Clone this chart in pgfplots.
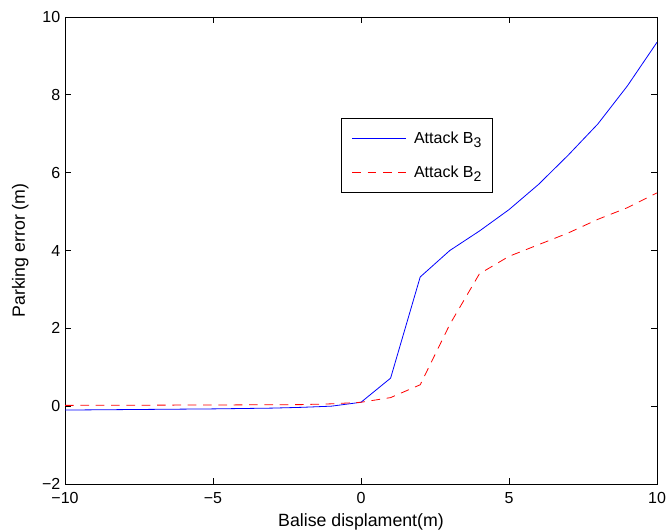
\documentclass[border=0pt]{standalone}
\usepackage{fontspec}
\setmainfont{Liberation Sans}
\usepackage{pgfplots}
\pgfplotsset{compat=1.18}
\newcommand{\sub}[1]{\raisebox{-0.45ex}{\fontsize{10.5}{10.5}\selectfont #1}}
\begin{document}
\begin{tikzpicture}
\useasboundingbox (-48.75pt,-35.25pt) rectangle (453.75pt,363pt);
\begin{axis}[
    at={(0,0)}, anchor=south west,
    scale only axis,
    width=444pt, height=350.25pt,
    xmin=-10, xmax=10, ymin=-2, ymax=10,
    xtick={-10,-5,0,5,10},
    xticklabels={−10,−5,0,5,10},
    ytick={-2,0,2,4,6,8,10},
    yticklabels={−2,0,2,4,6,8,10},
    tick align=inside,
    major tick length=4.3pt,
    axis line style={line width=0.6pt},
    tick style={line width=0.5pt, black},
    every tick label/.append style={font=\fontsize{12}{14}\selectfont},
    xticklabel style={yshift=-3pt},
    xlabel={Balise displament(m)},
    ylabel={Parking error (m)},
    label style={font=\fontsize{13.3}{15}\selectfont},
    xlabel style={at={(axis description cs:0.5,0)}, anchor=center, yshift=-28.5pt},
    ylabel style={at={(axis description cs:0,0.5)}, anchor=center, yshift=33.5pt},
    legend style={at={(axis description cs:0.466,0.783)}, anchor=north west,
        draw=black, line width=0.6pt, font=\fontsize{12}{14}\selectfont,
        cells={anchor=west}, row sep=11pt, inner xsep=6pt, inner ysep=8pt},
    legend image code/.code={\draw[#1, line width=0.6pt] (0pt,0pt) -- (40.5pt,0pt);
        \path (-2pt,0pt) (44pt,0pt);},
]
\addplot[blue, line width=0.6pt] coordinates {
(-10,-0.10) (-5,-0.07) (-3,-0.05) (-2,-0.03) (-1,0.0) (0,0.10) (1,0.72) (2,3.32)
(3,4.0) (4,4.5) (5,5.05) (6,5.7) (7,6.45) (8,7.25) (9,8.23) (10,9.35)};
\addlegendentry{Attack B\sub{3}}
\addplot[red, line width=0.6pt, dash pattern=on 6.5pt off 5pt] coordinates {
(-10,0.02) (-5,0.03) (-2,0.04) (-1,0.06) (0,0.10) (1,0.22) (2,0.55) (3,2.1)
(4,3.4) (5,3.85) (6,4.15) (7,4.45) (8,4.8) (9,5.1) (10,5.48)};
\addlegendentry{Attack B\sub{2}}
\end{axis}
\end{tikzpicture}
\end{document}
